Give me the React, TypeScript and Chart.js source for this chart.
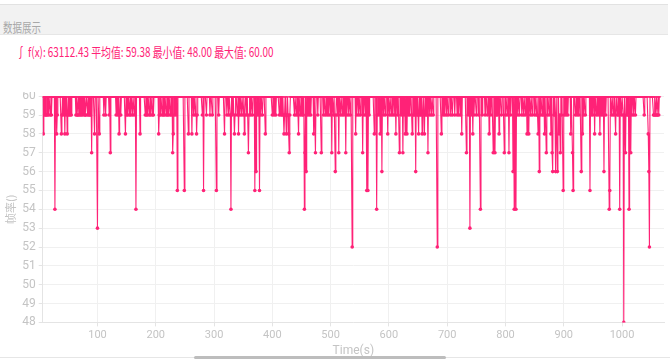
import React, { useEffect, useRef } from "react";
import { Chart, registerables } from "chart.js";

Chart.register(...registerables);

// ---- data ----
const timeStart = 6;
const timeEnd = 1064;
const axisMax = 1072;

// seconds where the frame rate was 59
const low59 = [
  9, 11, 12, 14, 16, 19, 21, 31, 39, 41, 46, 49, 51, 53, 55, 63, 65, 66, 68, 70, 72, 74, 77, 79, 80, 83, 85, 87, 88,
  111, 114, 120, 132, 135, 138, 140, 150, 152, 155, 157, 160, 163, 182, 184, 186, 189, 191, 194, 196, 206, 208, 211, 213, 215,
  218, 220, 222, 225, 227, 232, 235, 262, 265, 268, 271, 280, 287, 293, 297, 308,
  322, 325, 328, 331, 336, 340, 344, 347, 350, 353, 356, 360, 363, 366, 370, 374, 377, 380, 383,
  400, 403, 406, 412, 415, 417, 419, 421, 423, 425, 427, 430,
  438, 441, 444, 448, 451, 453, 460, 463, 466, 478,
  488, 491, 494, 497, 500, 505, 509, 512, 517, 520, 523, 528, 531, 534,
  545, 548, 551, 557, 560, 566, 580, 583, 591, 594, 601, 604, 607, 610, 615, 621, 626, 633, 636, 642,
  644, 648, 650, 653, 655, 658, 663, 665, 670, 673, 676,
  693, 696, 699, 702, 706, 709, 713, 717, 720, 723,
  736, 741, 746, 750, 754, 760, 765, 769, 775, 784, 786,
  793, 800, 803, 809, 821, 824, 828, 831, 834, 843, 846, 850, 853,
  855, 860, 863, 865, 872, 875, 883, 885, 893, 896, 901, 904, 907,
  920, 923, 926, 934, 937, 947, 950, 956, 959, 964, 967, 972,
  982, 985, 988, 992, 994, 999, 1002, 1008, 1010, 1017, 1020, 1023, 1038,
  1054, 1055, 1057, 1058, 1060, 1061, 1063,
];
const low58 = [
  7, 30, 38, 44, 48, 95, 103, 137, 148, 173, 205, 230, 256, 262, 270, 318, 335, 342, 352, 388, 420, 424, 428, 445, 471,
  543, 575, 585, 598, 612, 628, 631, 640, 651, 657, 661, 690, 725, 744, 772, 789, 837, 840, 856, 867, 878, 892, 912,
  932, 953, 962, 989, 1045,
];
const low57 = [
  90, 122, 229, 359, 429, 456, 474, 484, 502, 514, 526, 555, 618, 624, 667, 733, 779, 782, 798, 806, 870, 880, 894, 915,
  1006, 1015,
];
const low56 = [372, 458, 508, 588, 646, 813, 858, 881, 886, 889, 930, 969, 1046];
const low55 = [237, 249, 282, 304, 370, 378, 562, 564, 899, 916, 945, 979];
const low54 = [27, 166, 329, 455, 579, 757, 815, 818, 978, 996, 1012];
const low53 = [100, 739];
const low52 = [537, 683, 1047];
const low48 = [1003];

const yMin = 48;
const yMax = 60;
const xStep = 100;

const headerTitle = "数据展示";
const statsText = "∫ f(x): 63112.43 平均值: 59.38 最小值: 48.00 最大值: 60.00";
const xTitle = "Time(s)";
const yTitle = "帧率()";

const PINK = "#ff2277";
const LABEL = "#c4c4c4";

function buildSeries() {
  const levels: [number, number[]][] = [
    [59, low59], [58, low58], [57, low57], [56, low56], [55, low55],
    [54, low54], [53, low53], [52, low52], [48, low48],
  ];
  const pts: { x: number; y: number }[] = [];
  for (let t = timeStart; t <= timeEnd; t++) {
    let v = yMax;
    for (const [val, arr] of levels) if (arr.includes(t)) v = val;
    pts.push({ x: t, y: v });
  }
  return pts;
}

export default function App() {
  const ref = useRef<HTMLCanvasElement | null>(null);
  useEffect(() => {
    if (!ref.current) return;
    const chart = new Chart(ref.current, {
      type: "line",
      data: {
        datasets: [
          {
            data: buildSeries(),
            borderColor: PINK,
            backgroundColor: PINK,
            borderWidth: 1.1,
            pointRadius: 1.8,
            pointBorderWidth: 0,
            pointHoverRadius: 0,
            tension: 0,
            fill: false,
          },
        ],
      },
      options: {
        animation: false,
        responsive: false,
        events: [],
        layout: { padding: { top: 0, right: 6, left: 0, bottom: 0 } },
        plugins: { legend: { display: false }, tooltip: { enabled: false } },
        scales: {
          x: {
            type: "linear",
            min: timeStart,
            max: axisMax,
            ticks: {
              stepSize: xStep,
              includeBounds: false,
              color: LABEL,
              font: { size: 11, family: "Roboto" },
              padding: 2,
              maxRotation: 0,
              callback: (v: any) => String(v),
            },
            grid: { color: "#f0f0f0", tickLength: 4, tickColor: "#e4e4e4" },
            border: { color: "#e4e4e4" },
            title: {
              display: true,
              text: xTitle,
              color: LABEL,
              font: { size: 12, family: "Roboto" },
              padding: { top: 0, bottom: 0 },
            },
          },
          y: {
            min: yMin,
            max: yMax,
            ticks: {
              stepSize: 1,
              color: LABEL,
              font: { size: 12, family: "Roboto" },
              padding: 3,
            },
            grid: { color: "#f0f0f0", tickLength: 4, tickColor: "#e4e4e4" },
            border: { color: "#e4e4e4" },
            title: {
              display: true,
              text: yTitle,
              color: LABEL,
              font: { size: 11, family: "Noto Sans CJK SC" },
              padding: { top: 4, bottom: 2 },
            },
          },
        },
      },
    });
    return () => chart.destroy();
  }, []);

  return (
    <div style={{ position: "absolute", left: 0, top: 0, width: 670, height: 360, background: "#fff", overflow: "hidden", fontFamily: "'Noto Sans CJK SC', Roboto, sans-serif" }}>
      <div style={{ position: "absolute", left: 0, top: 4, width: 668, height: 31, background: "#f2f2f2", borderTop: "1px solid #e2e2e2", borderBottom: "1px solid #e6e6e6", boxSizing: "border-box" }} />
      <div style={{ position: "absolute", left: 3, top: 17, fontSize: 13, lineHeight: "20px", color: "#a8a8a8", transform: "scaleX(0.73)", transformOrigin: "left center", whiteSpace: "nowrap" }}>
        {headerTitle}
      </div>
      <canvas ref={ref} width={670} height={272} style={{ position: "absolute", left: 0, top: 86, display: "block" }} />
      <div style={{ position: "absolute", left: 0, top: 36, width: 670, height: 56, background: "#fff" }} />
      <div style={{ position: "absolute", left: 16, top: 42, fontSize: 13, lineHeight: "20px", color: PINK, transform: "scaleX(0.76)", transformOrigin: "left center", whiteSpace: "nowrap" }}>
        {statsText}
      </div>
      <div style={{ position: "absolute", left: 0, top: 357, width: 670, height: 1, background: "#e6e6e6" }} />
      <div style={{ position: "absolute", left: 194, top: 356, width: 252, height: 3, borderRadius: 2, background: "#bdbdbd" }} />
    </div>
  );
}
